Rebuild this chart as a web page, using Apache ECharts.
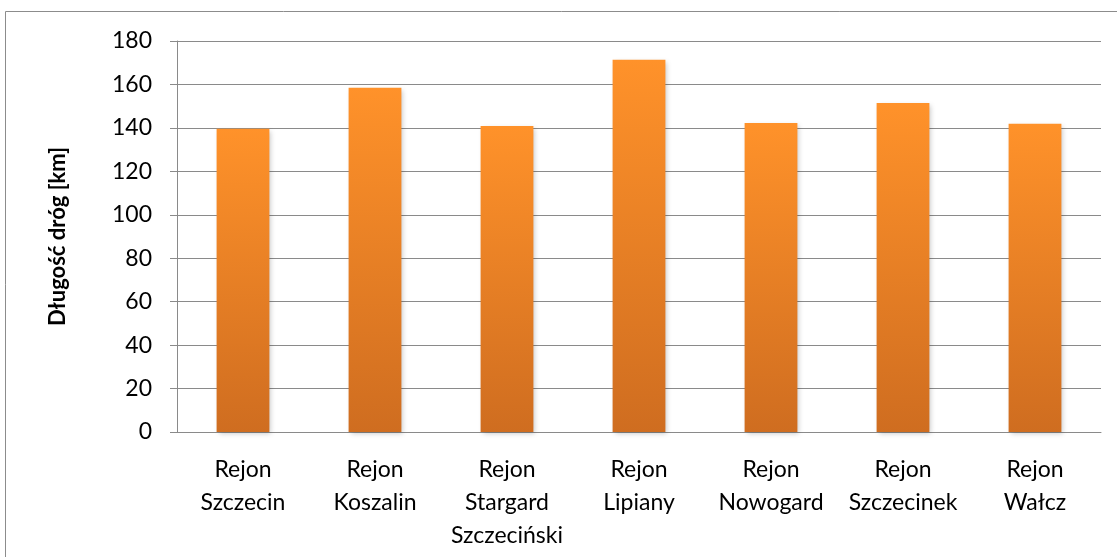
<!DOCTYPE html>
<html>
<head>
<meta charset="utf-8">
<script src="https://cdn.jsdelivr.net/npm/echarts@6/dist/echarts.min.js"></script>
<style>
    html, body {margin: 0; padding: 0; background: #fff;}
    #chart {width: 1117px; height: 557px;}
</style>
</head>
<body>
<div id="chart"></div>
<script>
// dane
var regions = ['Rejon\nSzczecin', 'Rejon\nKoszalin', 'Rejon\nStargard\nSzczeciński', 'Rejon\nLipiany',
    'Rejon\nNowogard', 'Rejon\nSzczecinek', 'Rejon\nWałcz'];
var roadLength = [139.6, 158.5, 140.9, 171.4, 142.3, 151.5, 141.9];
var yTitle = 'Długość dróg [km]';

var fontName = 'Lato, "Open Sans", sans-serif';
var gridColor = '#8a8a8a';

var myChart = echarts.init(document.getElementById('chart'));

var option = {
    animation: false,
    textStyle: {fontFamily: fontName},
    grid: {left: 177, right: 16, top: 41, bottom: 125},
    // ramka wykresu (widoczna tylko lewa i górna krawędź)
    graphic: [{
        type: 'rect',
        shape: {x: 5.5, y: 11.5, width: 1200, height: 600},
        style: {fill: 'none', stroke: '#8c8c8c', lineWidth: 1}
    }],
    xAxis: {
        type: 'category',
        data: regions,
        axisLine: {lineStyle: {color: gridColor, width: 1}},
        axisTick: {show: false},
        axisLabel: {
            color: '#000',
            fontSize: 23,
            lineHeight: 33,
            margin: 21,
            interval: 0
        }
    },
    yAxis: {
        type: 'value',
        min: 0,
        max: 180,
        interval: 20,
        name: yTitle,
        nameLocation: 'middle',
        nameGap: 108,
        nameTextStyle: {color: '#000', fontSize: 22, fontWeight: 'bold'},
        axisLine: {show: true, lineStyle: {color: gridColor, width: 1}},
        axisTick: {show: true, length: 7, lineStyle: {color: gridColor}},
        axisLabel: {color: '#000', fontSize: 23, margin: 25},
        splitLine: {lineStyle: {color: gridColor, width: 1}}
    },
    series: [{
        type: 'bar',
        data: roadLength,
        barWidth: '40%',
        itemStyle: {
            color: new echarts.graphic.LinearGradient(0, 0, 0, 1, [
                {offset: 0, color: '#ff922a'},
                {offset: 1, color: '#cf6d20'}
            ]),
            shadowColor: 'rgba(0,0,0,0.22)',
            shadowBlur: 5,
            shadowOffsetX: 2,
            shadowOffsetY: 2
        }
    }]
};

myChart.setOption(option);
</script>
</body>
</html>
